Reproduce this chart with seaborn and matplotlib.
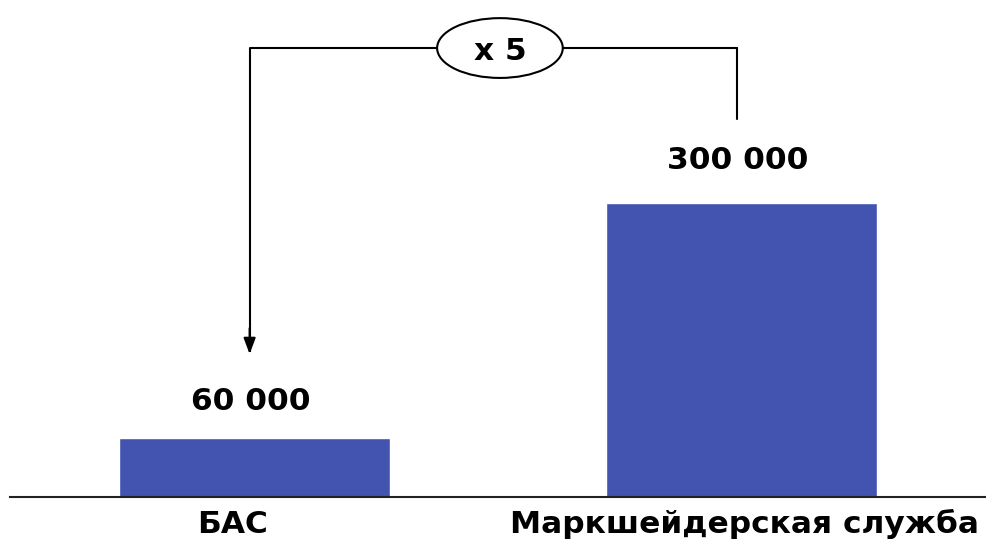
import matplotlib
matplotlib.use("Agg")
import matplotlib.pyplot as plt
import seaborn as sns
import pandas as pd
from matplotlib.patches import Ellipse

categories = ["БАС", "Маркшейдерская служба"]
values = [60000, 300000]
value_labels = ["60 000", "300 000"]
ratio_label = "x 5"

sns.set_theme(style="white")
plt.rcParams['font.family'] = ['DejaVu Sans']

df = pd.DataFrame({"cat": categories, "val": values})

fig = plt.figure(figsize=(9.86, 5.42), dpi=100)
ax = fig.add_axes([10/986, 45/542, 976/986, 497/542])
sns.barplot(data=df, x="cat", y="val", color="#4353B0", saturation=1, width=0.556, ax=ax)
ax.set_xlim(-0.502, 1.502)
ax.set_ylim(0, 507000)
for s in ["top", "right", "left"]:
    ax.spines[s].set_visible(False)
ax.spines["bottom"].set_color("#222222")
ax.spines["bottom"].set_linewidth(1.5)
ax.set_yticks([])
ax.set_xticklabels([])
ax.set_xlabel("")
ax.set_ylabel("")
ax.tick_params(axis="x", length=0)

FS = 22.5
cat_dx = [-16, 2]
for i, c in enumerate(categories):
    ax.annotate(c, (i, 0), xycoords=("data", "axes fraction"), xytext=(cat_dx[i], -26),
                textcoords="offset points", ha="center", va="baseline",
                fontsize=FS, fontweight="bold", color="black")

offsets = [20, 24.5]
for i, (v, t) in enumerate(zip(values, value_labels)):
    ax.annotate(t, (i, v), xytext=(-3, offsets[i]), textcoords="offset points",
                ha="center", va="baseline", fontsize=FS, fontweight="bold", color="black")

# bracket annotation
y_top = 458000
xl, xr = -0.01, 0.99
ax.plot([xl, xl], [148000, y_top], color="black", lw=1.5, solid_capstyle="butt")
ax.annotate("", xy=(xl, 143000), xytext=(xl, 175000),
            arrowprops=dict(arrowstyle="-|>,head_width=0.3,head_length=0.8", color="black", lw=1.5))
ax.plot([xl, 0.375], [y_top, y_top], color="black", lw=1.5)
ax.plot([0.633, xr], [y_top, y_top], color="black", lw=1.5)
ax.plot([xr, xr], [y_top, 386000], color="black", lw=1.5)
ax.add_patch(Ellipse((0.504, y_top), 0.258, 61000, facecolor="white", edgecolor="black", lw=1.5))
ax.text(0.504, y_top, ratio_label, ha="center", va="center_baseline", fontsize=FS, fontweight="bold", color="black")

fig.savefig("out.png", dpi=100)
